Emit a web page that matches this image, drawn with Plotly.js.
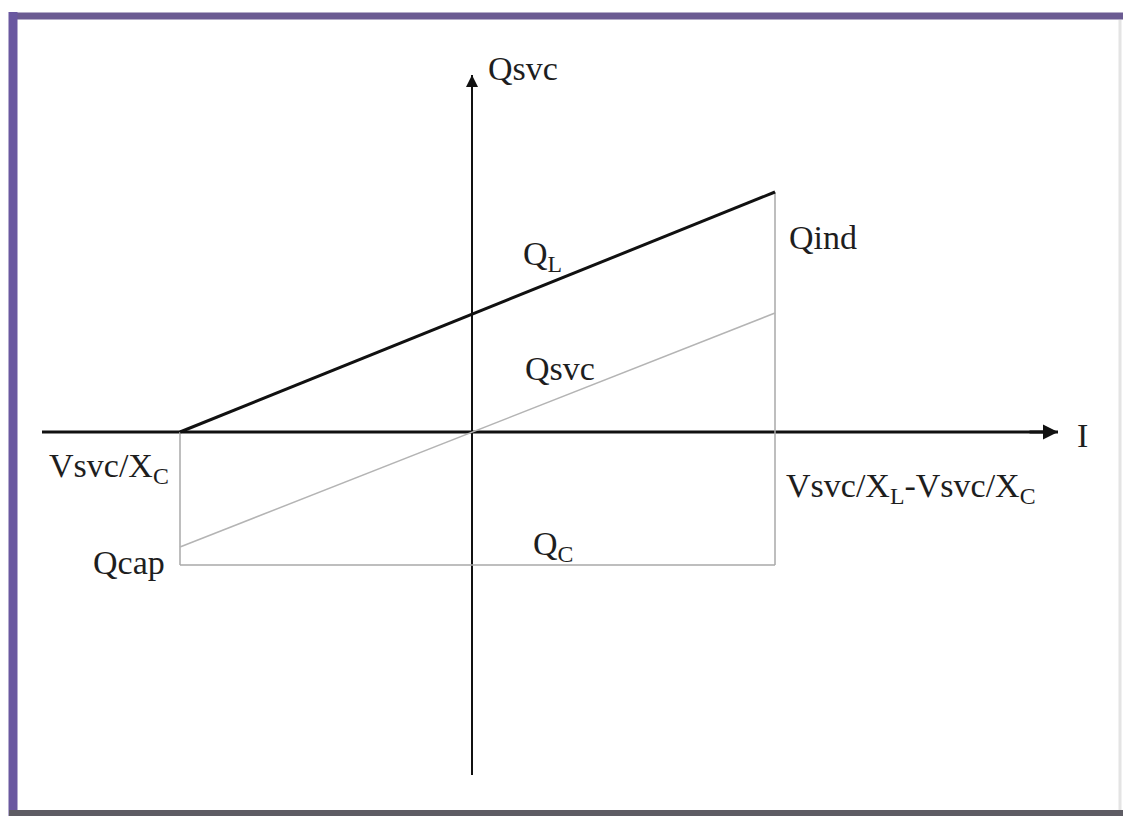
<!DOCTYPE html>
<html>
<head>
<meta charset="utf-8">
<script src="https://cdn.plot.ly/plotly-3.0.1.min.js"></script>
<style>html,body{margin:0;padding:0;background:#fff;}#chart{width:1123px;height:816px;}</style>
</head>
<body>
<div id="chart"></div>
<script>
// Current axis (I) end points: capacitive limit and inductive limit
const currentPoints = [-2.92, 3.03];
// Reactive power lines at those two current points
const QL = [0.0, 2.40];
const Qsvc = [-1.15, 1.19];
const QC = [-1.33, -1.33];
// Axis spans (drawn as arrows)
const xAxisSpan = [-4.30, 5.86];
const yAxisSpan = [-3.43, 3.57];
// Labels
const labelTexts = ["Qsvc", "Q<sub>L</sub>", "Qind", "Qsvc", "I", "Vsvc/X<sub>C</sub>",
  "Vsvc/X<sub>L</sub>-Vsvc/X<sub>C</sub>", "Qcap", "Q<sub>C</sub>"];
const labelX = [0.14, 0.49, 3.15, 0.51, 6.03, -4.25, 3.12, -3.81, 0.59];
const labelY = [3.64, 1.76, 1.95, 0.64, -0.03, -0.36, -0.56, -1.30, -1.14];

const serif = "Liberation Serif, Times New Roman, serif";
const gray = "#a8a8a8";

const traces = [
  // axes
  {x: xAxisSpan, y: [0, 0], mode: "lines", line: {color: "#111", width: 3}, hoverinfo: "skip"},
  {x: [0, 0], y: yAxisSpan, mode: "lines", line: {color: "#111", width: 2}, hoverinfo: "skip"},
  // guides
  {x: [currentPoints[0], currentPoints[0]], y: [QL[0], QC[0]], mode: "lines",
   line: {color: gray, width: 1.5}, hoverinfo: "skip"},
  {x: [currentPoints[1], currentPoints[1]], y: [QL[1], QC[1]], mode: "lines",
   line: {color: gray, width: 1.5}, hoverinfo: "skip"},
  {x: currentPoints, y: QC, mode: "lines", line: {color: gray, width: 1.5}, hoverinfo: "skip"},
  {x: currentPoints, y: Qsvc, mode: "lines", line: {color: "#b4b4b4", width: 1.5}, hoverinfo: "skip"},
  {x: currentPoints, y: QL, mode: "lines", line: {color: "#111", width: 3}, hoverinfo: "skip"}
];

const annotations = [
  {x: xAxisSpan[1], y: 0, ax: xAxisSpan[1] - 0.3, ay: 0, xref: "x", yref: "y", axref: "x", ayref: "y",
   showarrow: true, arrowhead: 2, arrowsize: 1, arrowwidth: 3, arrowcolor: "#111", standoff: 0, text: ""},
  {x: 0, y: yAxisSpan[1], ax: 0, ay: yAxisSpan[1] - 0.3, xref: "x", yref: "y", axref: "x", ayref: "y",
   showarrow: true, arrowhead: 2, arrowsize: 1.2, arrowwidth: 2, arrowcolor: "#111", standoff: 0, text: ""}
];
labelTexts.forEach((t, i) => {
  annotations.push({x: labelX[i], y: labelY[i], xref: "x", yref: "y", text: t, showarrow: false,
    xanchor: "left", yanchor: "middle", font: {family: serif, size: 34, color: "#1e1e1e"}});
});

const px = v => v / 1123, py = v => 1 - v / 816;
const shapes = [
  {type: "line", xref: "paper", yref: "paper", x0: px(9), x1: px(1123), y0: py(16), y1: py(16),
   line: {color: "#6b5b92", width: 7}},
  {type: "line", xref: "paper", yref: "paper", x0: px(13), x1: px(13), y0: py(12), y1: py(816),
   line: {color: "#6a58a0", width: 9}},
  {type: "line", xref: "paper", yref: "paper", x0: px(9), x1: px(1123), y0: py(813), y1: py(813),
   line: {color: "#5e5c64", width: 6}},
  {type: "line", xref: "paper", yref: "paper", x0: px(1120), x1: px(1120), y0: py(20), y1: py(810),
   line: {color: "#e4e4e4", width: 3}}
];

const layout = {
  width: 1123, height: 816, margin: {l: 0, r: 0, t: 0, b: 0},
  paper_bgcolor: "#fff", plot_bgcolor: "#fff", showlegend: false,
  xaxis: {range: [-4.72, 6.51], visible: false, fixedrange: true},
  yaxis: {range: [-3.84, 4.32], visible: false, fixedrange: true},
  annotations: annotations, shapes: shapes
};
Plotly.newPlot("chart", traces, layout, {displayModeBar: false, staticPlot: true});
</script>
</body>
</html>
